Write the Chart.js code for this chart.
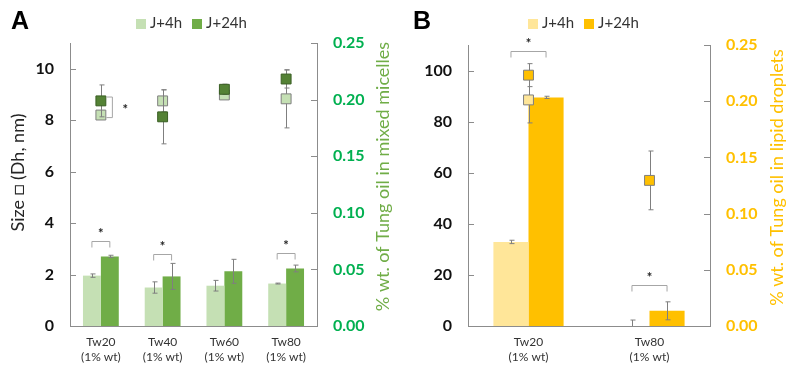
<!DOCTYPE html>
<html>
<head>
<meta charset="utf-8">
<script src="https://cdn.jsdelivr.net/npm/chart.js@4.4.1/dist/chart.umd.min.js"></script>
<style>
    body { margin: 0; background: #fff; width: 789px; height: 368px; overflow: hidden; position: relative; font-family: Lato, 'Open Sans', sans-serif; }
    .panel { position: absolute; top: 0; height: 368px; }
    .tag { position: absolute; top: 6px; font: bold 25px 'Liberation Sans', Arial, sans-serif; color: #000; }
    .legend { position: absolute; top: 13px; font-size: 15px; color: #333; white-space: nowrap; }
    .legend span.box { display: inline-block; width: 10px; height: 10px; margin-right: 4px; vertical-align: -1px; }
    .legend span.item { margin-right: 10px; }
</style>
</head>
<body>
<div class="panel" style="left:0;width:400px"><canvas id="chartA" width="400" height="368"></canvas></div>
<div class="panel" style="left:400px;width:389px"><canvas id="chartB" width="389" height="368"></canvas></div>
<div class="tag" style="left:11px">A</div>
<div class="tag" style="left:413px">B</div>
<div class="legend" style="left:136px"><span class="item"><span class="box" style="background:#c5e0b4"></span>J+4h</span><span class="item"><span class="box" style="background:#70ad47"></span>J+24h</span></div>
<div class="legend" style="left:528px"><span class="item"><span class="box" style="background:#ffe699"></span>J+4h</span><span class="item"><span class="box" style="background:#ffc000"></span>J+24h</span></div>

<script>
// ---- Panel A: mixed micelles ----
const labelsA = [['Tw20', '(1% wt)'], ['Tw40', '(1% wt)'], ['Tw60', '(1% wt)'], ['Tw80', '(1% wt)']];
const oilA4h = [0.0445, 0.0340, 0.0356, 0.0375];        // % wt, bars
const oilA4hErr = [0.0015, 0.0050, 0.0047, 0.0004];
const oilA24h = [0.0615, 0.0438, 0.0483, 0.0508];
const oilA24hErr = [0.0010, 0.0115, 0.0106, 0.0030];
const sizeA4h = [8.2, 8.75, 8.98, 8.83];                // Dh nm, squares
const sizeA4hErr = [0.15, 0.43, 0.10, 1.13];
const sizeA24h = [8.75, 8.13, 9.2, 9.6];
const sizeA24hErr = [0.62, 1.05, 0.20, 0.35];

// ---- Panel B: lipid droplets ----
const labelsB = [['Tw20', '(1% wt)'], ['Tw80', '(1% wt)']];
const oilB4h = [0.0748, 0.0];
const oilB4hErr = [0.0015, 0.0053];
const oilB24h = [0.2034, 0.0135];
const oilB24hErr = [0.0010, 0.0080];
const sizeB4h = [88.5, null];
const sizeB4hErr = [9.0, 0];
const sizeB24h = [98.2, 57.0];
const sizeB24hErr = [4.5, 11.5];

const FONT = 'Lato, "Open Sans", sans-serif';
const AXIS_GREY = '#8c8c8c';

/**
 * Draws error bars, inward tick marks, significance brackets and axis titles
 */
const extrasPlugin = {
    id: 'extras',
    drawErrors(chart, index) {
        const ds = chart.data.datasets[index];
        if (!ds.errors) return;
        const meta = chart.getDatasetMeta(index);
        const scale = chart.scales[ds.yAxisID];
        const ctx = chart.ctx;
        ctx.save();
        ctx.strokeStyle = '#7f7f7f';
        ctx.lineWidth = 1;
        meta.data.forEach((el, i) => {
            const v = ds.data[i];
            const e = ds.errors[i];
            if (v === null || !e) return;
            const x = Math.round(el.x) + 0.5;
            const top = scale.getPixelForValue(v + e);
            const bot = scale.getPixelForValue(Math.max(v - e, scale.min));
            ctx.beginPath();
            ctx.moveTo(x, top); ctx.lineTo(x, bot);
            ctx.moveTo(x - 2, top); ctx.lineTo(x + 3, top);
            if (v - e >= scale.min) { ctx.moveTo(x - 2, bot); ctx.lineTo(x + 3, bot); }
            ctx.stroke();
        });
        ctx.restore();
    },
    beforeDatasetDraw(chart, args) {
        if (chart.data.datasets[args.index].type === 'line') this.drawErrors(chart, args.index);
    },
    afterDatasetDraw(chart, args) {
        if (chart.data.datasets[args.index].type !== 'line') this.drawErrors(chart, args.index);
    },
    afterDraw(chart, args, opts) {
        const ctx = chart.ctx;
        const area = chart.chartArea;
        ctx.save();
        // inward tick marks on both y axes
        ctx.strokeStyle = AXIS_GREY;
        ctx.lineWidth = 1;
        ['y', 'y1'].forEach(id => {
            const s = chart.scales[id];
            const dir = id === 'y' ? 1 : -1;
            const x0 = id === 'y' ? area.left : area.right;
            s.ticks.forEach(t => {
                const y = Math.round(s.getPixelForValue(t.value)) + 0.5;
                ctx.beginPath();
                ctx.moveTo(x0, y); ctx.lineTo(x0 + dir * 6, y);
                ctx.stroke();
            });
        });
        // significance brackets
        ctx.strokeStyle = '#a6a6a6';
        ctx.fillStyle = '#222';
        ctx.font = 'bold 13px ' + FONT;
        ctx.textAlign = 'center';
        ctx.textBaseline = 'middle';
        const m0 = chart.getDatasetMeta(0), m1 = chart.getDatasetMeta(1);
        (opts.barBrackets || []).forEach(b => {
            const x1 = m0.data[b.cat].x, x2 = m1.data[b.cat].x;
            const y = Math.round(chart.scales.y1.getPixelForValue(b.value)) + 0.5;
            ctx.beginPath();
            ctx.moveTo(x1, y + 6); ctx.lineTo(x1, y); ctx.lineTo(x2, y); ctx.lineTo(x2, y + 6);
            ctx.stroke();
            ctx.fillText('*', (x1 + x2) / 2, y - 8);
        });
        (opts.sideBrackets || []).forEach(b => {
            const sy = chart.scales.y;
            const xc = chart.scales.x.getPixelForValue(b.cat) + 11.5;
            const y1 = sy.getPixelForValue(b.from), y2 = sy.getPixelForValue(b.to);
            ctx.beginPath();
            ctx.moveTo(xc - 6, y1); ctx.lineTo(xc, y1); ctx.lineTo(xc, y2); ctx.lineTo(xc - 6, y2);
            ctx.stroke();
            ctx.fillText('*', xc + 13, (y1 + y2) / 2 + 2);
        });
        // y axis titles, both read bottom-to-top
        ctx.font = '18px ' + FONT;
        const midY = (area.top + area.bottom) / 2 - 8;
        if (opts.leftTitle) {
            ctx.save();
            ctx.translate(opts.leftTitleX, midY - 4);
            ctx.rotate(-Math.PI / 2);
            ctx.fillStyle = '#262626';
            ctx.fillText(opts.leftTitle, 0, 0);
            ctx.restore();
        }
        ctx.save();
        ctx.translate(opts.rightTitleX, midY);
        ctx.rotate(-Math.PI / 2);
        ctx.fillStyle = opts.rightTitleColor;
        ctx.fillText(opts.rightTitle, 0, 0);
        ctx.restore();
        ctx.restore();
    }
};

function buildChart(canvasId, cfg) {
    const ctx = document.getElementById(canvasId).getContext('2d');
    const datasets = [
        { type: 'bar', label: 'J+4h', data: cfg.bar4h, errors: cfg.bar4hErr, backgroundColor: cfg.light, yAxisID: 'y1', order: 3 },
        { type: 'bar', label: 'J+24h', data: cfg.bar24h, errors: cfg.bar24hErr, backgroundColor: cfg.dark, yAxisID: 'y1', order: 3 },
        { type: 'line', label: 'J+4h size', data: cfg.size4h, errors: cfg.size4hErr, showLine: false, yAxisID: 'y', order: 2,
          pointStyle: 'rect', pointRadius: 7, pointBackgroundColor: cfg.sq4h, pointBorderColor: '#7f7f7f', pointBorderWidth: 1 },
        { type: 'line', label: 'J+24h size', data: cfg.size24h, errors: cfg.size24hErr, showLine: false, yAxisID: 'y', order: 1,
          pointStyle: 'rect', pointRadius: 7, pointBackgroundColor: cfg.sq24h, pointBorderColor: cfg.sq24hBorder, pointBorderWidth: 1 }
    ];
    return new Chart(ctx, {
        data: { labels: cfg.labels, datasets },
        plugins: [extrasPlugin],
        options: {
            responsive: false,
            animation: false,
            layout: { padding: { top: cfg.top, left: 0, right: 0, bottom: 0 } },
            datasets: { bar: { categoryPercentage: 0.58, barPercentage: 1.0 } },
            plugins: {
                legend: { display: false },
                tooltip: { enabled: false },
                extras: {
                    barBrackets: cfg.barBrackets, sideBrackets: cfg.sideBrackets,
                    leftTitle: cfg.leftTitle, leftTitleX: 18,
                    rightTitle: cfg.rightTitle, rightTitleX: cfg.rightTitleX, rightTitleColor: cfg.titleColor
                }
            },
            scales: {
                x: {
                    grid: { display: false },
                    border: { color: AXIS_GREY },
                    ticks: { color: '#333', font: { family: FONT, size: 12, lineHeight: 1.3 }, padding: 0, maxRotation: 0 },
                    afterFit: s => { s.height = 42; }
                },
                y: {
                    position: 'left',
                    min: 0, max: cfg.leftMax,
                    grid: { display: false },
                    border: { color: AXIS_GREY },
                    ticks: { stepSize: cfg.leftStep, color: '#111', padding: 8, font: { family: FONT, size: 16, weight: 'bold' } },
                    afterBuildTicks: s => { s.ticks = s.ticks.filter(t => t.value % cfg.leftStep === 0); },
                    afterFit: s => { s.width = cfg.leftWidth; }
                },
                y1: {
                    position: 'right',
                    min: 0, max: 0.25,
                    grid: { display: false },
                    border: { color: AXIS_GREY },
                    ticks: { stepSize: 0.05, color: cfg.tickColor, padding: 8, font: { family: FONT, size: 16, weight: 'bold' },
                             callback: v => v.toFixed(2) },
                    afterFit: s => { s.width = cfg.rightWidth; }
                }
            }
        }
    });
}

buildChart('chartA', {
    labels: labelsA,
    bar4h: oilA4h, bar4hErr: oilA4hErr, bar24h: oilA24h, bar24hErr: oilA24hErr,
    size4h: sizeA4h, size4hErr: sizeA4hErr, size24h: sizeA24h, size24hErr: sizeA24hErr,
    light: '#c5e0b4', dark: '#70ad47', sq4h: '#c5e0b4', sq24h: '#548235', sq24hBorder: '#3a5f24',
    top: 43, leftWidth: 70, rightWidth: 83, leftMax: 11, leftStep: 2,
    leftTitle: 'Size \u25A1 (Dh, nm)',
    rightTitle: '% wt. of Tung oil in mixed micelles', rightTitleX: 383,
    tickColor: '#00b050', titleColor: '#70ad47',
    barBrackets: [{ cat: 0, value: 0.075 }, { cat: 1, value: 0.0636 }, { cat: 3, value: 0.0645 }],
    sideBrackets: [{ cat: 0, from: 8.9, to: 8.1 }]
});

buildChart('chartB', {
    labels: labelsB,
    bar4h: oilB4h, bar4hErr: oilB4hErr, bar24h: oilB24h, bar24hErr: oilB24hErr,
    size4h: sizeB4h, size4hErr: sizeB4hErr, size24h: sizeB24h, size24hErr: sizeB24hErr,
    light: '#ffe699', dark: '#ffc000', sq4h: '#ffe699', sq24h: '#ffc000', sq24hBorder: '#7f7f7f',
    top: 45, leftWidth: 68, rightWidth: 79, leftMax: 110, leftStep: 20,
    leftTitle: '',
    rightTitle: '% wt. of Tung oil in lipid droplets', rightTitleX: 377,
    tickColor: '#ffc000', titleColor: '#ffc000',
    barBrackets: [{ cat: 0, value: 0.2447 }, { cat: 1, value: 0.0362 }],
    sideBrackets: []
});
</script>
</body>
</html>
